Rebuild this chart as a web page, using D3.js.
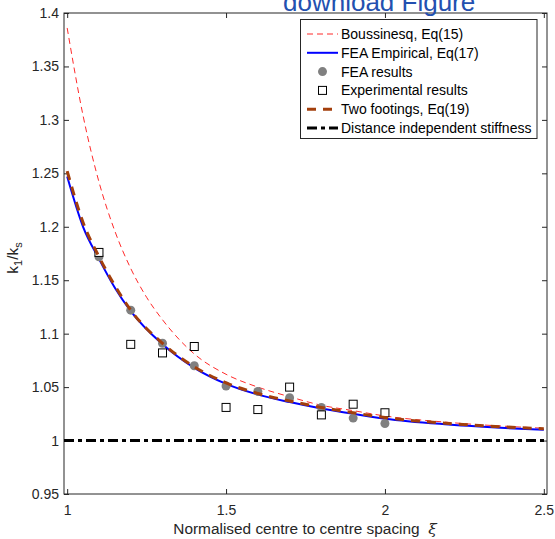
<!DOCTYPE html>
<html>
<head>
<meta charset="utf-8">
<script src="https://cdn.jsdelivr.net/npm/d3@7"></script>
<style>
  body { margin: 0; background: #fff; }
  svg { display: block; font-family: "Liberation Sans", Arial, sans-serif; }
</style>
</head>
<body>
<div id="chart"></div>
<script>
// Data
const xTicks = [1, 1.5, 2, 2.5];
const xTickLabels = ["1", "1.5", "2", "2.5"];
const yTicks = [0.95, 1, 1.05, 1.1, 1.15, 1.2, 1.25, 1.3, 1.35, 1.4];
const yTickLabels = ["0.95", "1", "1.05", "1.1", "1.15", "1.2", "1.25", "1.3", "1.35", "1.4"];

// Boussinesq, Eq(15)
const boussX = [1.00, 1.05, 1.10, 1.15, 1.20, 1.25, 1.30, 1.40, 1.50, 1.60, 1.70, 1.80, 1.90, 2.00, 2.20, 2.50];
const boussY = [1.386, 1.304, 1.242, 1.196, 1.161, 1.134, 1.113, 1.081, 1.062, 1.050, 1.041, 1.033, 1.028, 1.023, 1.017, 1.0115];
// FEA Empirical, Eq(17)
const empX = [1.00, 1.05, 1.10, 1.15, 1.20, 1.30, 1.40, 1.50, 1.60, 1.70, 1.80, 1.90, 2.00, 2.20, 2.50];
const empY = [1.247, 1.200, 1.170, 1.143, 1.121, 1.090, 1.068, 1.053, 1.043, 1.036, 1.030, 1.025, 1.0205, 1.015, 1.010];
// Two footings, Eq(19)
const twoX = [1.00, 1.05, 1.10, 1.15, 1.20, 1.30, 1.40, 1.50, 1.60, 1.70, 1.80, 1.90, 2.00, 2.20, 2.50];
const twoY = [1.252, 1.204, 1.172, 1.145, 1.122, 1.091, 1.069, 1.054, 1.044, 1.037, 1.031, 1.026, 1.0215, 1.016, 1.011];
// FEA results
const feaX = [1.1, 1.2, 1.3, 1.4, 1.5, 1.6, 1.7, 1.8, 1.9, 2.0];
const feaY = [1.172, 1.122, 1.091, 1.070, 1.051, 1.046, 1.040, 1.031, 1.021, 1.016];
// Experimental results
const expX = [1.1, 1.2, 1.3, 1.4, 1.5, 1.6, 1.7, 1.8, 1.9, 2.0];
const expY = [1.176, 1.090, 1.082, 1.088, 1.031, 1.029, 1.050, 1.024, 1.034, 1.026];
// Distance independent stiffness
const flatX = [0.99, 2.51];
const flatY = [1, 1];

const legendLabels = ["Boussinesq, Eq(15)", "FEA Empirical, Eq(17)", "FEA results",
    "Experimental results", "Two footings, Eq(19)", "Distance independent stiffness"];

const width = 555, height = 539;
const axisColor = "#262626";
const plotLeft = 64, plotRight = 547, plotTop = 13, plotBottom = 494;

const svg = d3.select("#chart")
    .append("svg")
    .attr("width", width)
    .attr("height", height);

const x = d3.scaleLinear().domain([0.99, 2.51]).range([plotLeft, plotRight]);
const y = d3.scaleLinear().domain([0.95, 1.4]).range([plotBottom, plotTop]);

// Axes (MATLAB-style inward ticks, box on)
svg.append("g")
    .attr("transform", "translate(0," + plotBottom + ")")
    .call(d3.axisBottom(x).tickValues(xTicks).tickSize(-5).tickSizeOuter(0).tickPadding(11)
        .tickFormat((d, i) => xTickLabels[i]));
svg.append("g")
    .attr("transform", "translate(" + plotLeft + ",0)")
    .call(d3.axisLeft(y).tickValues(yTicks).tickSize(-5).tickSizeOuter(0).tickPadding(5)
        .tickFormat((d, i) => yTickLabels[i]));
svg.append("g")
    .attr("transform", "translate(0," + plotTop + ")")
    .call(d3.axisTop(x).tickValues(xTicks).tickSize(-5).tickSizeOuter(0).tickFormat(""));
svg.append("g")
    .attr("transform", "translate(" + plotRight + ",0)")
    .call(d3.axisRight(y).tickValues(yTicks).tickSize(-5).tickSizeOuter(0).tickFormat(""));

svg.selectAll(".domain").remove();
svg.selectAll(".tick line").style("stroke", axisColor);
svg.selectAll(".tick text")
    .style("font-size", "14px")
    .style("fill", axisColor)
    .style("font-family", "'Liberation Sans', Arial, sans-serif");

svg.append("rect")
    .attr("x", plotLeft).attr("y", plotTop)
    .attr("width", plotRight - plotLeft).attr("height", plotBottom - plotTop)
    .style("fill", "none")
    .style("stroke", axisColor)
    .style("stroke-width", 1);

// Curves
const line = d3.line()
    .x((d) => x(d[0]))
    .y((d) => y(d[1]))
    .curve(d3.curveMonotoneX);

const plot = svg.append("g");

plot.append("path")
    .datum(d3.zip(boussX, boussY))
    .attr("d", line)
    .style("fill", "none")
    .style("stroke", "#ff2a2a")
    .style("stroke-width", 1)
    .style("stroke-dasharray", "6,4");

plot.append("path")
    .datum(d3.zip(empX, empY))
    .attr("d", line)
    .style("fill", "none")
    .style("stroke", "#0000ff")
    .style("stroke-width", 2);

plot.selectAll("circle.fea")
    .data(d3.zip(feaX, feaY))
    .enter()
    .append("circle")
    .attr("class", "fea")
    .attr("cx", (d) => x(d[0]))
    .attr("cy", (d) => y(d[1]))
    .attr("r", 4.5)
    .style("fill", "#808080");

plot.selectAll("rect.exp")
    .data(d3.zip(expX, expY))
    .enter()
    .append("rect")
    .attr("class", "exp")
    .attr("x", (d) => x(d[0]) - 4)
    .attr("y", (d) => y(d[1]) - 4)
    .attr("width", 8)
    .attr("height", 8)
    .style("fill", "white")
    .style("stroke", "black")
    .style("stroke-width", 1);

plot.append("path")
    .datum(d3.zip(twoX, twoY))
    .attr("d", line)
    .style("fill", "none")
    .style("stroke", "#a33f0c")
    .style("stroke-width", 3)
    .style("stroke-dasharray", "9,7");

plot.append("path")
    .datum(d3.zip(flatX, flatY))
    .attr("d", d3.line().x((d) => x(d[0])).y((d) => y(d[1])))
    .style("fill", "none")
    .style("stroke", "black")
    .style("stroke-width", 3)
    .style("stroke-dasharray", "10,4,4,4");

// Axis labels
const ylab = svg.append("text")
    .attr("transform", "translate(18,258) rotate(-90)")
    .attr("text-anchor", "middle")
    .style("font-size", "15.4px")
    .style("fill", axisColor);
ylab.append("tspan").text("k");
ylab.append("tspan").attr("dy", 4).style("font-size", "11px").text("1");
ylab.append("tspan").attr("dy", -4).text("/k");
ylab.append("tspan").attr("dy", 4).style("font-size", "11px").text("s");

const xlab = svg.append("text")
    .attr("x", 305)
    .attr("y", 534)
    .attr("text-anchor", "middle")
    .style("font-size", "15.4px")
    .style("fill", axisColor);
xlab.append("tspan").text("Normalised centre to centre spacing\u00a0\u00a0");
xlab.append("tspan").style("font-style", "italic").style("font-family", "'DejaVu Serif', serif").text("\u03be");

// Legend
const legend = svg.append("g");
legend.append("rect")
    .attr("x", 300.5).attr("y", 19.5)
    .attr("width", 236.5).attr("height", 119)
    .style("fill", "white")
    .style("stroke", axisColor)
    .style("stroke-width", 1);

const legendY = (i) => 34 + i * 18.8;
const sampleStyles = [
    {stroke: "#ff2a2a", width: 1, dash: "6,4"},
    {stroke: "#0000ff", width: 2, dash: null},
    null,
    null,
    {stroke: "#a33f0c", width: 3, dash: "9,7"},
    {stroke: "black", width: 3, dash: "10,4,4,4"}
];
legendLabels.forEach((lab, i) => {
    const cy = legendY(i);
    const s = sampleStyles[i];
    if (s) {
        legend.append("line")
            .attr("x1", 307).attr("x2", 338)
            .attr("y1", cy).attr("y2", cy)
            .style("stroke", s.stroke)
            .style("stroke-width", s.width)
            .style("stroke-dasharray", s.dash);
    } else if (i === 2) {
        legend.append("circle")
            .attr("cx", 322.5).attr("cy", cy).attr("r", 4.5)
            .style("fill", "#808080");
    } else {
        legend.append("rect")
            .attr("x", 318.5).attr("y", cy - 4).attr("width", 8).attr("height", 8)
            .style("fill", "white").style("stroke", "black");
    }
    legend.append("text")
        .attr("x", 341)
        .attr("y", cy + 5)
        .style("font-size", "14px")
        .style("fill", "black")
        .text(lab);
});

// Overlaid page text, clipped at the top edge as in the reference
svg.append("text")
    .attr("x", 283)
    .attr("y", 11)
    .style("font-size", "26px")
    .style("fill", "#2350b0")
    .text("download Figure");
</script>
</body>
</html>
